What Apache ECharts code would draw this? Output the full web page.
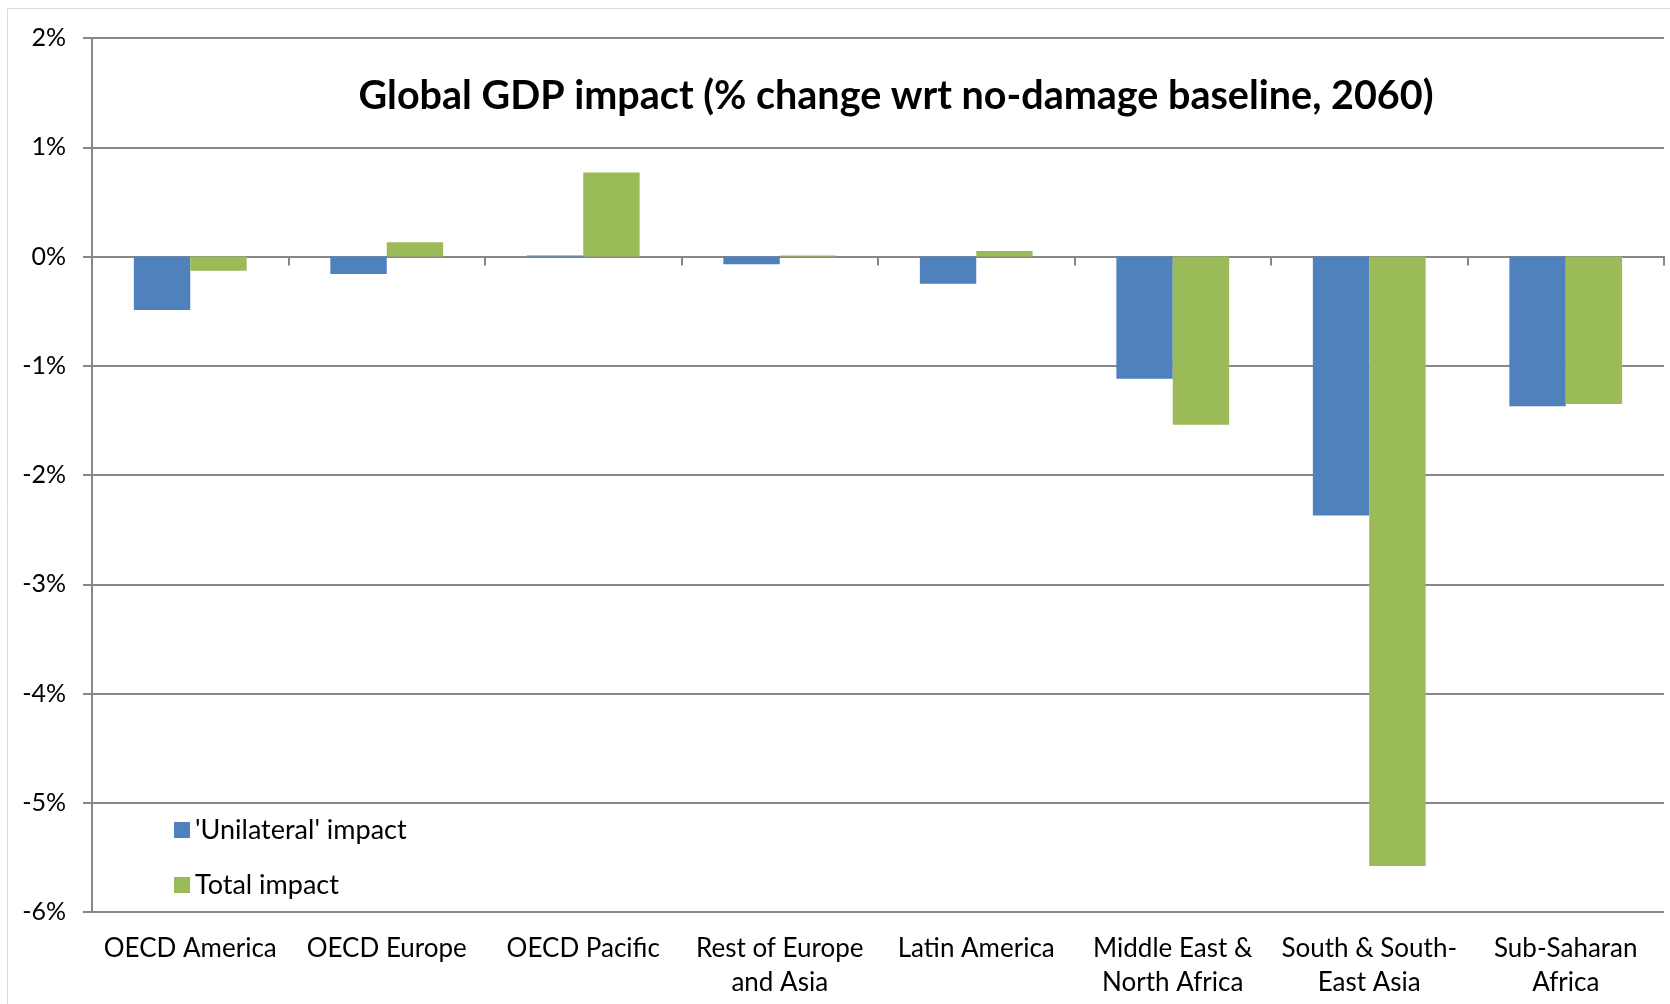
<!DOCTYPE html>
<html>
<head>
<meta charset="utf-8">
<script src="https://cdn.jsdelivr.net/npm/echarts@6/dist/echarts.min.js"></script>
<style>
html,body{margin:0;padding:0;background:#fff;}
#c{width:1670px;height:1004px;}
</style>
</head>
<body>
<div id="c"></div>
<script>
const categories = ["OECD America", "OECD Europe", "OECD Pacific", "Rest of Europe\nand Asia", "Latin America", "Middle East &\nNorth Africa", "South & South-\nEast Asia", "Sub-Saharan\nAfrica"];
const unilateral = [-0.49, -0.16, 0.01, -0.07, -0.25, -1.12, -2.37, -1.37];
const total = [-0.13, 0.13, 0.77, 0.01, 0.05, -1.54, -5.58, -1.35];
const seriesNames = ["'Unilateral' impact", "Total impact"];
const yTicks = {min: -6, max: 2, step: 1};

const FONT = 'Lato';
const chart = echarts.init(document.getElementById('c'), null, {renderer: 'canvas'});
chart.setOption({
  backgroundColor: '#fff',
  animation: false,
  title: {
    text: 'Global GDP impact (% change wrt no-damage baseline, 2060)',
    left: 891, top: 91, textAlign: 'center', textVerticalAlign: 'middle',
    textStyle: {fontFamily: FONT, fontWeight: 'bold', fontSize: 39.5, color: '#000'}
  },
  graphic: [{
    type: 'rect', shape: {x: 7.5, y: 8.5, width: 1700, height: 1100},
    style: {fill: 'none', stroke: '#d9d9d9', lineWidth: 1}, silent: true, z: -10
  }],
  legend: {
    orient: 'vertical', left: 169, top: 811,
    itemWidth: 16, itemHeight: 16, itemGap: 27, icon: 'rect',
    textStyle: {fontFamily: FONT, fontSize: 27, color: '#000', lineHeight: 28},
    data: seriesNames
  },
  grid: {left: 92, right: 6, top: 38, bottom: 92, containLabel: false},
  xAxis: [{
    type: 'category', data: categories, position: 'bottom',
    axisLine: {onZero: true, lineStyle: {color: '#878787', width: 2}},
    axisTick: {show: true, length: 9, lineStyle: {color: '#878787', width: 2}},
    axisLabel: {show: false}
  }, {
    type: 'category', data: categories, position: 'bottom',
    axisLine: {show: false, onZero: false}, axisTick: {show: false},
    axisLabel: {show: true, margin: 20, fontFamily: FONT, fontSize: 26, color: '#000', lineHeight: 34, interval: 0}
  }],
  yAxis: {
    type: 'value', min: yTicks.min, max: yTicks.max, interval: yTicks.step,
    axisLine: {show: true, lineStyle: {color: '#878787', width: 2}},
    axisTick: {show: true, length: 9, lineStyle: {color: '#878787', width: 2}},
    splitLine: {show: true, lineStyle: {color: '#878787', width: 2}},
    axisLabel: {margin: 26, fontFamily: FONT, fontSize: 25, color: '#000', formatter: v => v + '%'}
  },
  series: [{
    name: seriesNames[0], type: 'bar', data: unilateral, xAxisIndex: 0,
    barGap: '0%', barCategoryGap: '42.6%',
    itemStyle: {color: '#4f81bd'}
  }, {
    name: seriesNames[1], type: 'bar', data: total, xAxisIndex: 0,
    barGap: '0%', barCategoryGap: '42.6%',
    itemStyle: {color: '#9bbb59'}
  }]
});
</script>
</body>
</html>
